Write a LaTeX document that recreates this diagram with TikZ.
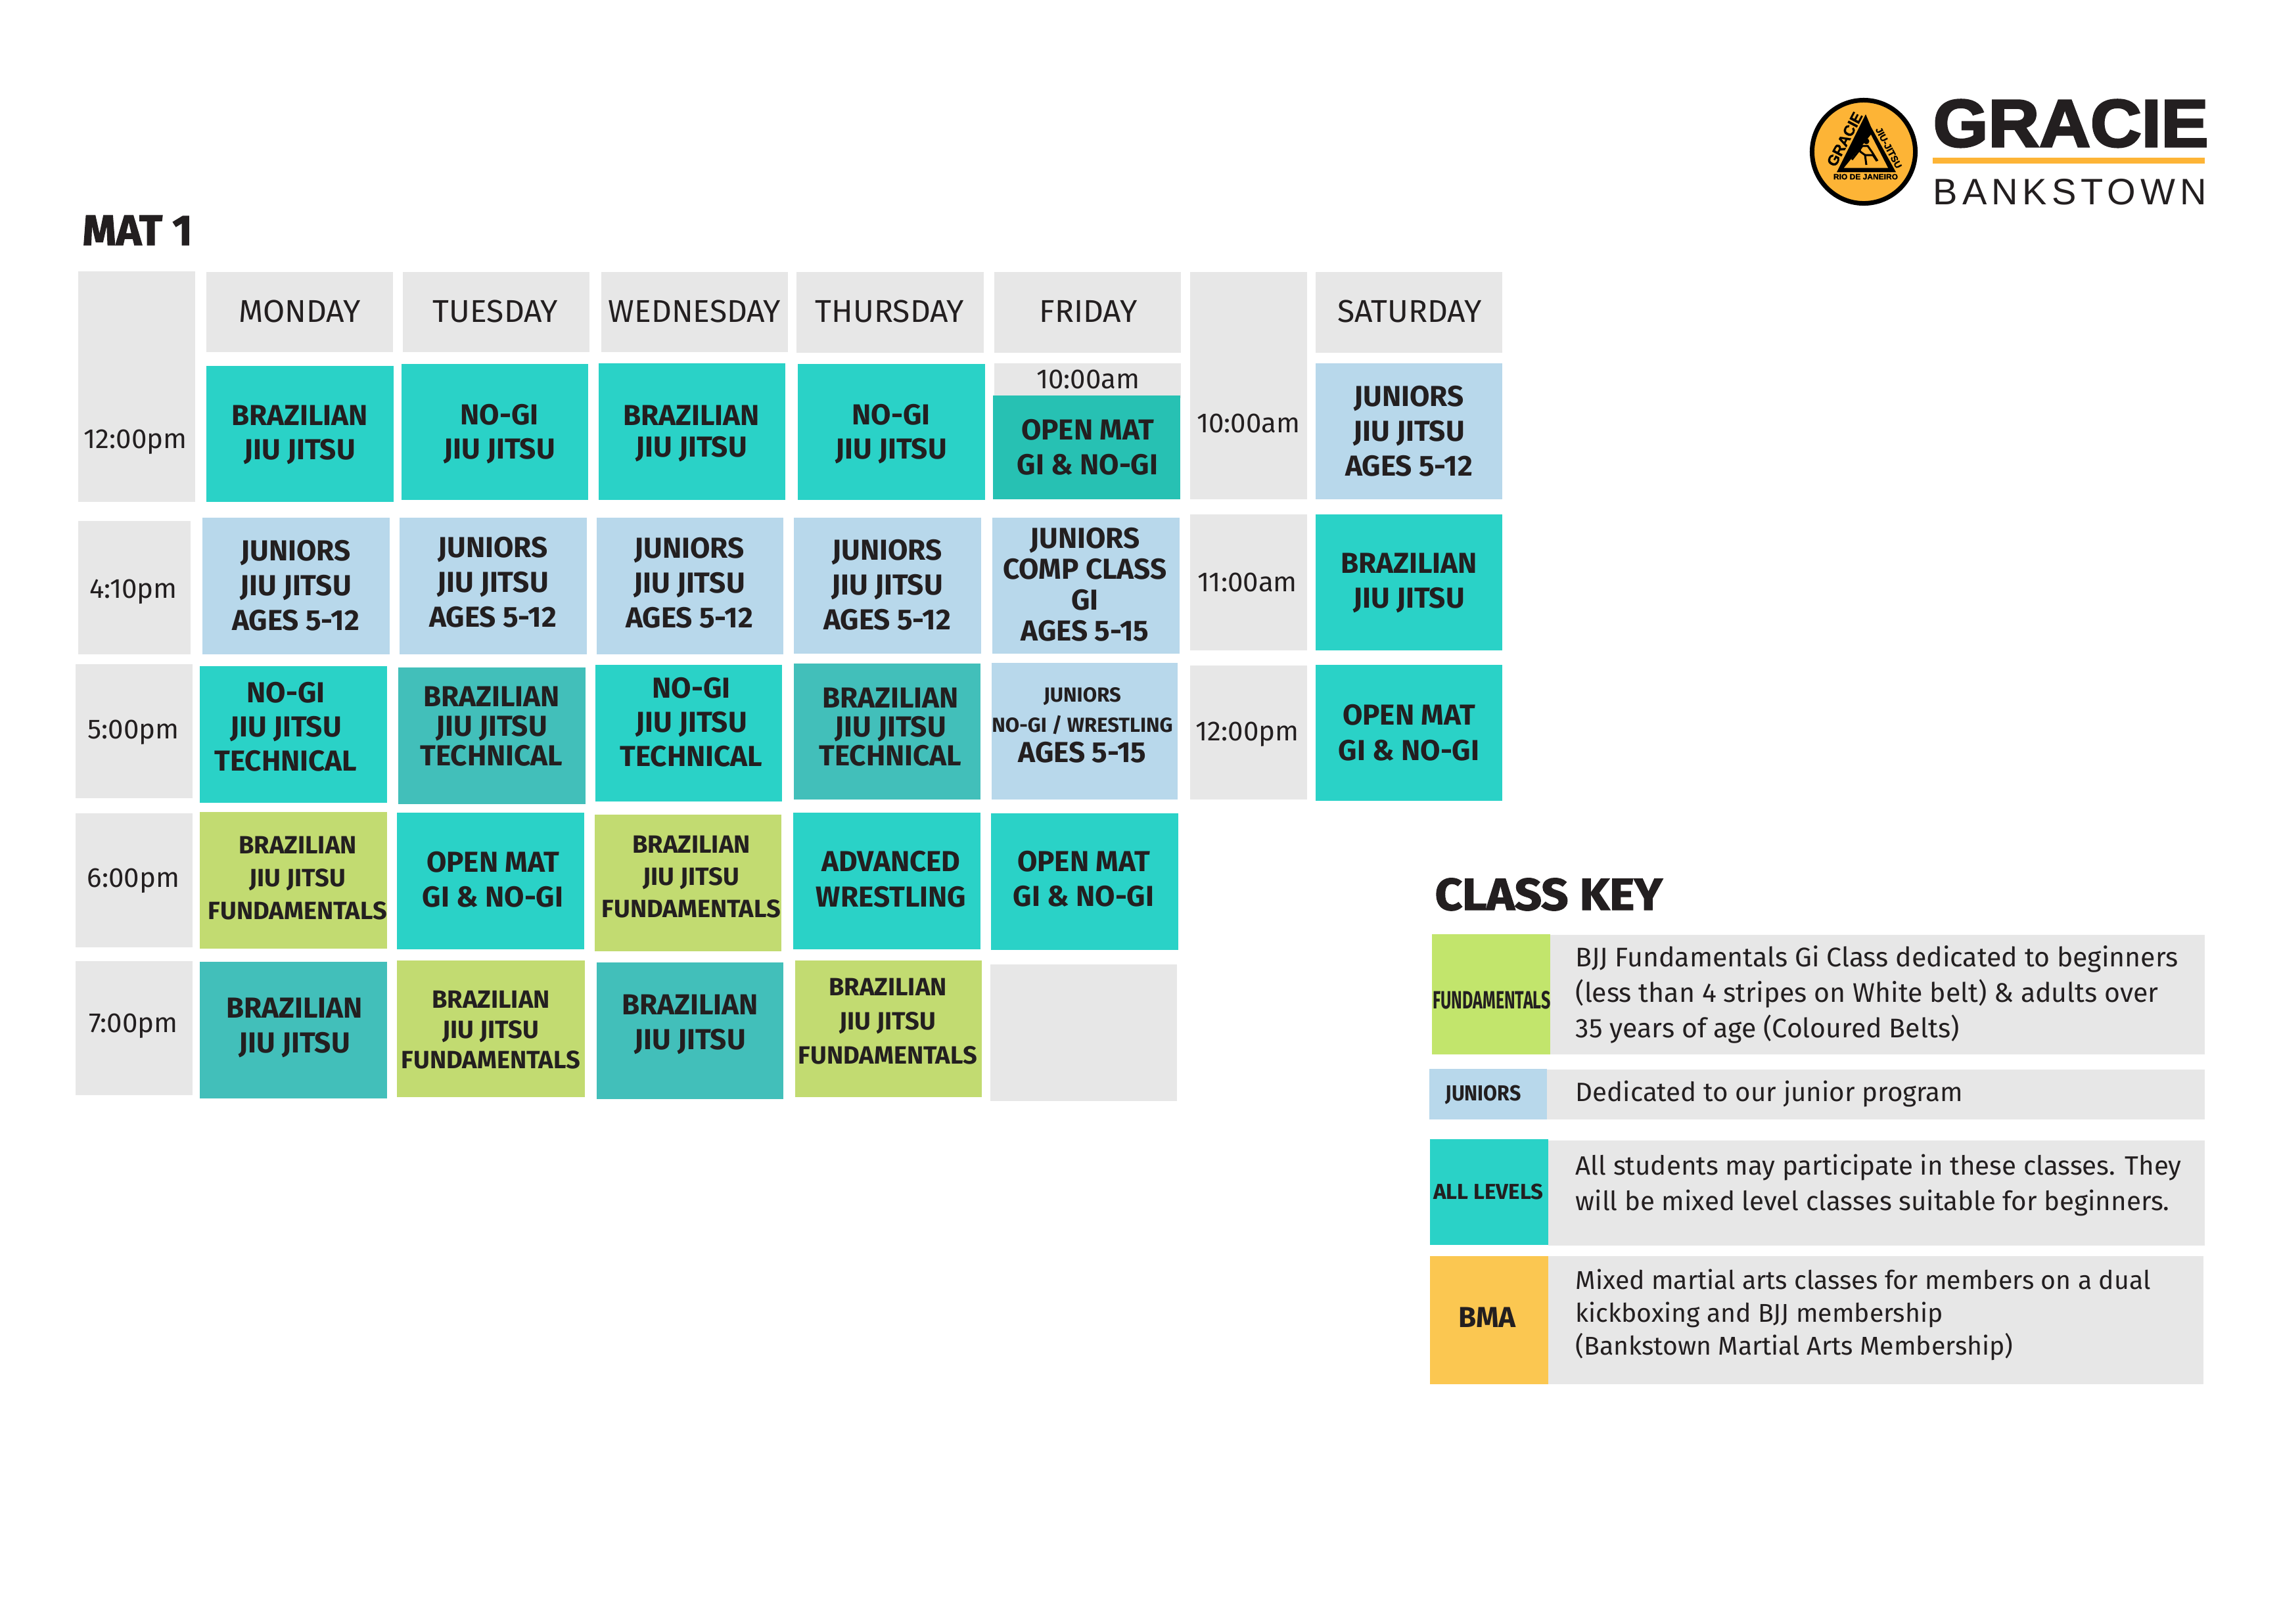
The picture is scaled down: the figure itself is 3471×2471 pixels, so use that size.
\documentclass[tikz,border=0pt]{standalone}
\usepackage{fontspec}
\usepackage{graphicx}
\setmainfont{Fira Sans}
\newfontfamily\heavyfont[BoldFeatures={FakeBold=2}]{Fira Sans}
\newfontfamily\logofont[BoldFeatures={FakeBold=3}]{Liberation Sans}
\newfontfamily\smalllogofont[BoldFeatures={FakeBold=1}]{Liberation Sans}
\newfontfamily\townfont[LetterSpace=12.5]{Liberation Sans}
\usetikzlibrary{fit}
\definecolor{allcol}{HTML}{2AD2C7}
\definecolor{techcol}{HTML}{42BFBA}
\definecolor{opencol}{HTML}{27C1B3}
\definecolor{juncol}{HTML}{B8D8EB}
\definecolor{fundcol}{HTML}{C2DB71}
\definecolor{keyfund}{HTML}{C2E56C}
\definecolor{greycol}{HTML}{E7E7E7}
\definecolor{bmacol}{HTML}{FBC751}
\definecolor{logocol}{HTML}{FDB436}
\definecolor{inkcol}{HTML}{231F20}
\tikzstyle{allbox} = [fill=allcol]
\tikzstyle{techbox} = [fill=techcol]
\tikzstyle{openbox} = [fill=opencol]
\tikzstyle{junbox} = [fill=juncol]
\tikzstyle{fundbox} = [fill=fundcol]
\tikzstyle{greybox} = [fill=greycol]
\tikzstyle{classtext} = [align=center, inner sep=0pt, text=inkcol, yshift=-0.03cm]
\tikzstyle{keytext} = [align=left, anchor=west, inner sep=0pt, text=inkcol, yshift=-0.04cm]
\tikzstyle{headtext} = [anchor=base west, inner sep=0pt, text=inkcol]
% box only, corners in reference pixels
\newcommand{\plainbox}[4]{\node (#1) [#2, inner sep=0pt, fit={(#3) (#4)}] {};}
% box and its class text
\newcommand{\slot}[7][52]{\plainbox{#2}{#3}{#4}{#5}
  \node (#2txt) [classtext, font=\fontsize{0.44cm}{0.#1cm}\selectfont\bfseries] at (#6) {#7};}
\newcommand{\fundslot}[6][50]{\plainbox{#2}{fundbox}{#3}{#4}
  \node (#2txt) [classtext, font=\fontsize{0.38cm}{0.#1cm}\selectfont\bfseries] at (#5) {#6};}
% grey boxes with plain text (days, times)
\newcommand{\dayslot}[5]{\plainbox{#1}{greybox}{#2}{#3}
  \node (#1txt) [classtext, font=\fontsize{0.48cm}{0.52cm}\selectfont] at (#4) {#5};}
\newcommand{\timeslot}[5]{\plainbox{#1}{greybox}{#2}{#3}
  \node (#1txt) [classtext, yshift=-0.03cm, font=\fontsize{0.42cm}{0.52cm}\selectfont] at (#4) {#5};}
\newcommand{\tinyfont}{\fontsize{0.31cm}{0.46cm}\selectfont}
\begin{document}
\begin{tikzpicture}[x=0.01cm, y=-0.01cm]
\useasboundingbox (0,0) rectangle (3471,2471);

% logo
\node (logoring) [circle, fill=logocol, draw=black, line width=0.07cm, minimum size=1.57cm, inner sep=0pt] at (2836,231) {};
\fill [black] (2839,174) -- (2842,181) -- (2847,193) -- (2885,262) -- (2795,262) -- cycle;
\fill [logocol] (2847,205) -- (2873,255.5) -- (2806,255.5) -- cycle;
\fill [black] (2840,215) circle (4.5);
\draw [black, line width=0.03cm] (2818,243) -- (2829,229) -- (2834,222) -- (2842,222) -- (2849,232) -- (2857,245);
\draw [black, line width=0.03cm] (2826,219) -- (2831,231) -- (2838,236) -- (2840,251);
\draw [black, line width=0.03cm] (2838,236) -- (2850,236) -- (2856,245);
\node (logoleft) [rotate=62, inner sep=0pt, font=\fontsize{0.23cm}{0.3cm}\smalllogofont\bfseries] at (2807,212) {GRACIE};
\node (logoright) [rotate=-62, inner sep=0pt, font=\fontsize{0.145cm}{0.2cm}\smalllogofont\bfseries] at (2874,225) {JIU-JITSU};
\node (logorio) [inner sep=0pt, font=\fontsize{0.12cm}{0.15cm}\smalllogofont\bfseries] at (2839,269) {RIO DE JANEIRO};
\node (gracie) [headtext, font=\fontsize{1.02cm}{1.1cm}\logofont\bfseries] at (2941,223) {\scalebox{1.055}[1]{GRACIE}};
\plainbox{logoline}{fill=logocol}{2941,240}{3355,249}
\node (bankstown) [headtext, font=\fontsize{0.56cm}{0.6cm}\townfont] at (2941,311) {BANKSTOWN};

% mat 1
\node (matone) [headtext, font=\fontsize{0.65cm}{0.7cm}\heavyfont\bfseries] at (125,373) {MAT 1};

% days
\timeslot{timeA}{119,413}{297,764}{206,667}{12:00pm}
\dayslot{monday}{314,414}{598,536}{456,471}{MONDAY}
\dayslot{tuesday}{613,414}{897,536}{754,471}{TUESDAY}
\dayslot{wednesday}{915,414}{1199,536}{1057,471}{WEDNESDAY}
\dayslot{thursday}{1212,414}{1497,537}{1354,471}{THURSDAY}
\dayslot{friday}{1513,414}{1797,537}{1656,471}{FRIDAY}
\timeslot{timeSatA}{1811,414}{1989,760}{1900,638}{10:00am}
\dayslot{saturday}{2002,414}{2286,537}{2145,471}{SATURDAY}

% first row
\slot{monA}{allbox}{314,557}{599,764}{456,659}{BRAZILIAN\\JIU JITSU}
\slot{tueA}{allbox}{611,554}{895,761}{760,658}{NO-GI\\JIU JITSU}
\slot[48]{wedA}{allbox}{911,553}{1195,761}{1052,657}{BRAZILIAN\\JIU JITSU}
\slot{thuA}{allbox}{1214,554}{1499,761}{1356,658}{NO-GI\\JIU JITSU}
\timeslot{friTime}{1513,553}{1797,606}{1656,571}{10:00am}
\slot[53]{friA}{openbox}{1511,602}{1796,760}{1655,678}{OPEN MAT\\GI \& NO-GI}
\slot[53]{satA}{junbox}{2002,553}{2286,760}{2144,653}{JUNIORS\\JIU JITSU\\AGES 5-12}

% second row
\timeslot{timeB}{119,793}{290,996}{203,895}{4:10pm}
\slot[53]{monB}{junbox}{308,788}{593,996}{450,888}{JUNIORS\\JIU JITSU\\AGES 5-12}
\slot[53]{tueB}{junbox}{608,788}{893,996}{750,883}{JUNIORS\\JIU JITSU\\AGES 5-12}
\slot[53]{wedB}{junbox}{908,788}{1192,996}{1049,884}{JUNIORS\\JIU JITSU\\AGES 5-12}
\slot[53]{thuB}{junbox}{1208,788}{1493,995}{1350,887}{JUNIORS\\JIU JITSU\\AGES 5-12}
\slot[47]{friB}{junbox}{1510,788}{1795,995}{1651,887}{JUNIORS\\COMP CLASS\\GI\\AGES 5-15}
\timeslot{timeSatB}{1811,783}{1989,990}{1898,880}{11:00am}
\slot[53]{satB}{allbox}{2002,783}{2286,990}{2144,884}{BRAZILIAN\\JIU JITSU}

% third row
\timeslot{timeC}{115,1011}{293,1215}{203,1109}{5:00pm}
\slot{monC}{allbox}{304,1014}{589,1222}{435,1103}{NO-GI\\JIU JITSU\\TECHNICAL}
\slot[45]{tueC}{techbox}{606,1016}{891,1224}{748,1103}{BRAZILIAN\\JIU JITSU\\TECHNICAL}
\slot{wedC}{allbox}{906,1012}{1190,1220}{1052,1096}{NO-GI\\JIU JITSU\\TECHNICAL}
\slot[44]{thuC}{techbox}{1208,1010}{1492,1217}{1355,1104}{BRAZILIAN\\JIU JITSU\\TECHNICAL}
\slot[46]{friC}{junbox}{1509,1009}{1792,1217}{1647,1101}{\tinyfont JUNIORS\\\tinyfont NO-GI / WRESTLING\\AGES 5-15}
\timeslot{timeSatC}{1811,1013}{1989,1217}{1898,1112}{12:00pm}
\slot[54]{satC}{allbox}{2002,1012}{2286,1219}{2144,1112}{OPEN MAT\\GI \& NO-GI}

% fourth row
\timeslot{timeD}{115,1238}{293,1442}{203,1335}{6:00pm}
\fundslot{monD}{304,1236}{589,1444}{453,1334}{BRAZILIAN\\JIU JITSU\\FUNDAMENTALS}
\slot[53]{tueD}{allbox}{604,1237}{889,1445}{750,1336}{OPEN MAT\\GI \& NO-GI}
\fundslot[49]{wedD}{905,1240}{1189,1448}{1052,1332}{BRAZILIAN\\JIU JITSU\\FUNDAMENTALS}
\slot[54]{thuD}{allbox}{1207,1237}{1492,1445}{1356,1335}{ADVANCED\\WRESTLING}
\slot[53]{friD}{allbox}{1508,1238}{1793,1446}{1649,1335}{OPEN MAT\\GI \& NO-GI}

% fifth row
\timeslot{timeE}{115,1463}{293,1667}{203,1556}{7:00pm}
\slot[53]{monE}{techbox}{304,1464}{589,1672}{448,1561}{BRAZILIAN\\JIU JITSU}
\fundslot[46]{tueE}{604,1462}{890,1670}{747,1565}{BRAZILIAN\\JIU JITSU\\FUNDAMENTALS}
\slot[53]{wedE}{techbox}{908,1465}{1192,1673}{1050,1556}{BRAZILIAN\\JIU JITSU}
\fundslot[52]{thuE}{1210,1462}{1494,1670}{1351,1552}{BRAZILIAN\\JIU JITSU\\FUNDAMENTALS}
\plainbox{friE}{greybox}{1507,1468}{1791,1676}

% class key
\node (classkey) [headtext, font=\fontsize{0.68cm}{0.7cm}\heavyfont\bfseries] at (2183,1385) {\scalebox{1.06}[1]{CLASS KEY}};

\plainbox{keyAgrey}{greybox}{2359,1423}{3355,1605}
\plainbox{keyA}{fill=keyfund}{2179,1422}{2359,1605}
\node (keyAname) [classtext, font=\fontsize{0.38cm}{0.4cm}\selectfont\bfseries] at (2270,1519) {\scalebox{0.66}[1]{FUNDAMENTALS}};
\node (keyAtxt) [keytext, font=\fontsize{0.41cm}{0.54cm}\selectfont] at (2397,1510) {BJJ Fundamentals Gi Class dedicated to beginners\\(less than 4 stripes on White belt) \& adults over\\35 years of age (Coloured Belts)};

\plainbox{keyBgrey}{greybox}{2354,1628}{3355,1704}
\plainbox{keyB}{junbox}{2175,1627}{2354,1704}
\node (keyBname) [classtext, font=\fontsize{0.33cm}{0.4cm}\selectfont\bfseries] at (2257,1664) {\scalebox{0.92}[1]{JUNIORS}};
\node (keyBtxt) [keytext, font=\fontsize{0.403cm}{0.54cm}\selectfont] at (2397,1661) {Dedicated to our junior program};

\plainbox{keyCgrey}{greybox}{2356,1736}{3355,1896}
\plainbox{keyC}{allbox}{2176,1734}{2356,1895}
\node (keyCname) [classtext, font=\fontsize{0.33cm}{0.4cm}\selectfont\bfseries] at (2265,1811) {\scalebox{1.0}[1]{ALL LEVELS}};
\node (keyCtxt) [keytext, font=\fontsize{0.403cm}{0.54cm}\selectfont] at (2397,1800) {All students may participate in these classes. They\\will be mixed level classes suitable for beginners.};

\plainbox{keyDgrey}{greybox}{2356,1912}{3353,2107}
\plainbox{keyD}{fill=bmacol}{2176,1912}{2356,2107}
\node (keyDname) [classtext, font=\fontsize{0.44cm}{0.4cm}\selectfont\bfseries] at (2263,2002) {BMA};
\node (keyDtxt) [keytext, font=\fontsize{0.392cm}{0.50cm}\selectfont] at (2397,1997) {Mixed martial arts classes for members on a dual\\kickboxing and BJJ membership\\(Bankstown Martial Arts Membership)};
\end{tikzpicture}
\end{document}
